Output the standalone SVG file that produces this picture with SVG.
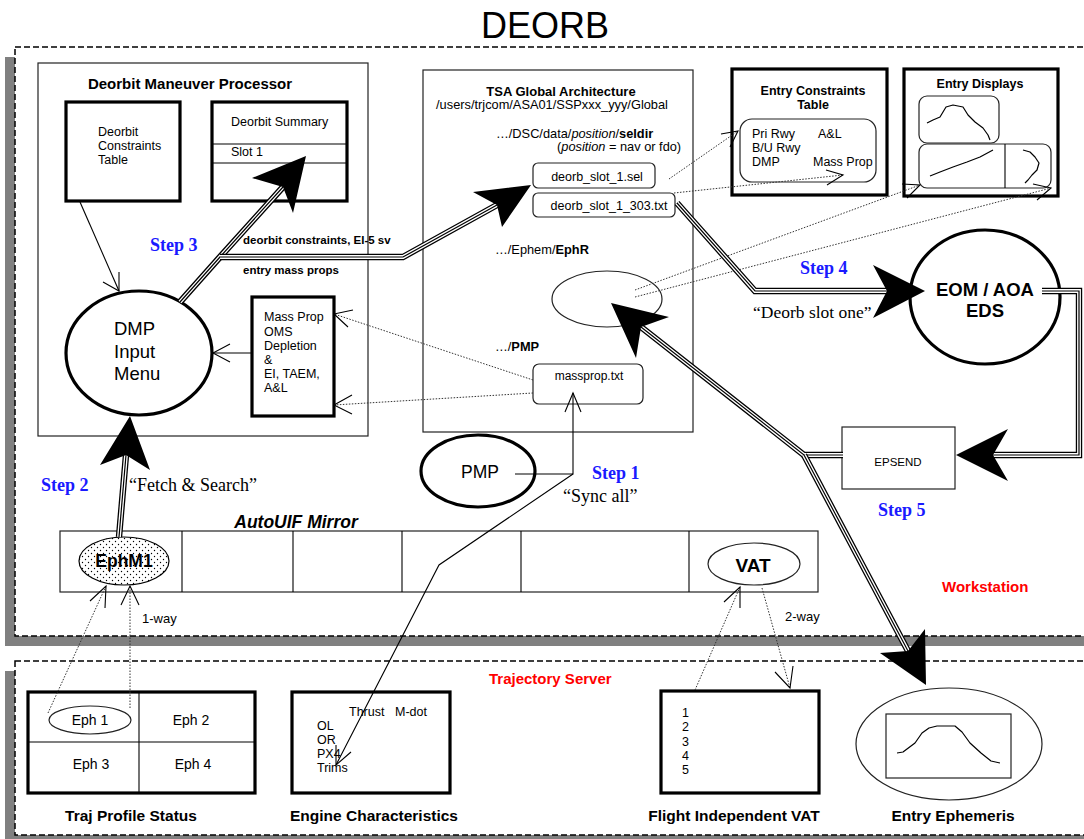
<svg xmlns="http://www.w3.org/2000/svg" xmlns:xlink="http://www.w3.org/1999/xlink" width="1084" height="839" viewBox="0 0 1084 839">
<style>
text{font-family:"Liberation Sans",Arial,sans-serif;fill:#000}
.b{font-weight:bold}
.serif{font-family:"Liberation Serif","Times New Roman",serif}
.step{font-family:"Liberation Serif","Times New Roman",serif;font-weight:bold;font-size:18px;fill:#1a1aff}
.red{font-weight:bold;font-size:15px;fill:#ff0000}
.thin{fill:#fff;stroke:#222;stroke-width:1.2}
.thick{fill:#fff;stroke:#000;stroke-width:3.2}
.frame{fill:#fff;stroke:#000;stroke-width:1.5;stroke-dasharray:6 3}
.shadow{fill:#808080}
.ln{fill:none;stroke:#000;stroke-width:1.1}
.curve{fill:none;stroke:#000;stroke-width:1.2;stroke-linejoin:round}
.dot{fill:none;stroke:#333;stroke-width:1;stroke-dasharray:1.5 1.5}
.t1{fill:none;stroke:#000;stroke-width:6.4}
.t2{fill:none;stroke:#fff;stroke-width:3.8}
.t3{fill:none;stroke:#000;stroke-width:1.2}
.head{fill:#000;stroke:none}
.lbl{font-weight:bold;font-size:15.5px;text-anchor:middle}
</style>
<defs>
<pattern id="dots" width="6" height="6" patternUnits="userSpaceOnUse">
<rect width="6" height="6" fill="#fff"/>
<circle cx="1.5" cy="1.5" r="0.7" fill="#000"/>
<circle cx="4.5" cy="4.5" r="0.7" fill="#000"/>
</pattern>
<path id="pA" d="M180,302 L220,257 L283,187"/>
<path id="pB" d="M220,257 L403,257 L497,205"/>
<path id="pC" d="M677,203 L755,291 L887,291"/>
<path id="pD" d="M1042,291 L1079,291 L1079,455 L993,455"/>
<path id="pE" d="M843,455 L804,455 L641,327"/>
<path id="pF" d="M804,455 L908,651"/>
<path id="pG" d="M119,537 L126,455"/>
</defs>
<rect width="1084" height="839" fill="#fff"/>
<text x="545" y="38" font-size="36" text-anchor="middle">DEORB</text>

<g id="workstation">
<rect class="shadow" x="5" y="57" width="1090" height="589"/>
<rect class="frame" x="15" y="47" width="1080" height="589"/>
<text class="red" x="942" y="592">Workstation</text>
</g>
<g id="trajectory-server">
<rect class="shadow" x="5" y="671" width="1090" height="174"/>
<rect class="frame" x="15" y="661" width="1080" height="174"/>
<text class="red" x="489" y="684">Trajectory Server</text>
</g>

<g id="dmp-processor">
<rect class="thin" x="38" y="63" width="330" height="373"/>
<text class="b" x="190" y="89" font-size="15" text-anchor="middle">Deorbit Maneuver Processor</text>
</g>
<g id="deorbit-constraints-table">
<rect class="thick" x="66" y="102" width="114" height="99"/>
<text x="98" y="136" font-size="12.5">Deorbit</text>
<text x="98" y="150" font-size="12.5">Constraints</text>
<text x="98" y="164" font-size="12.5">Table</text>
</g>
<g id="deorbit-summary">
<rect class="thick" x="212" y="102" width="135" height="99"/>
<line class="ln" x1="212" y1="144" x2="347" y2="144"/>
<line class="ln" x1="212" y1="163" x2="347" y2="163"/>
<text x="231" y="126" font-size="12.5">Deorbit Summary</text>
<text x="231" y="156" font-size="12.5">Slot 1</text>
</g>
<g id="dmp-input-menu">
<ellipse class="thick" cx="139" cy="353" rx="73" ry="62"/>
<text x="114" y="335" font-size="18.5">DMP</text>
<text x="114" y="358" font-size="18.5">Input</text>
<text x="114" y="380" font-size="18.5">Menu</text>
</g>
<g id="mass-prop">
<rect class="thick" x="252" y="297" width="82" height="119"/>
<text x="264" y="321" font-size="12.5">Mass Prop</text>
<text x="264" y="336" font-size="12.5">OMS</text>
<text x="264" y="350" font-size="12.5">Depletion</text>
<text x="264" y="364" font-size="12.5">&amp;</text>
<text x="264" y="378" font-size="12.5">EI, TAEM,</text>
<text x="264" y="392" font-size="12.5">A&amp;L</text>
</g>

<g id="tsa-global">
<rect class="thin" x="423" y="70" width="270" height="362"/>
<text class="b" x="561" y="96" font-size="13" text-anchor="middle">TSA Global Architecture</text>
<text x="552" y="109" font-size="12.8" text-anchor="middle">/users/trjcom/ASA01/SSPxxx_yyy/Global</text>
<text x="496" y="138" font-size="12.8">…/DSC/data/<tspan font-style="italic">position</tspan>/<tspan font-weight="bold">seldir</tspan></text>
<text x="557" y="151" font-size="12.8">(<tspan font-style="italic">position</tspan> = nav or fdo)</text>
<text x="495" y="254" font-size="12.8">…/Ephem/<tspan font-weight="bold">EphR</tspan></text>
<text x="495" y="351" font-size="12.8">…/<tspan font-weight="bold">PMP</tspan></text>
</g>
<g id="deorb-slot-sel">
<rect class="thin" x="533" y="163" width="122" height="25" rx="5"/>
<text x="597" y="181" font-size="12.5" text-anchor="middle">deorb_slot_1.sel</text>
</g>
<g id="deorb-slot-txt">
<rect class="thin" x="533" y="193" width="142" height="24" rx="5"/>
<text x="609" y="210" font-size="12.5" text-anchor="middle">deorb_slot_1_303.txt</text>
</g>
<g id="ephr">
<ellipse class="thin" cx="607" cy="299" rx="55" ry="28"/>
</g>
<g id="massprop-txt">
<rect class="thin" x="533" y="364" width="110" height="40" rx="6"/>
<text x="589" y="380" font-size="12" text-anchor="middle">massprop.txt</text>
</g>

<g id="entry-constraints-table">
<rect class="thick" x="732" y="69" width="155" height="126"/>
<text class="b" x="813" y="95" font-size="12.5" text-anchor="middle">Entry Constraints</text>
<text class="b" x="813" y="109" font-size="12.5" text-anchor="middle">Table</text>
<rect class="thin" x="740" y="119" width="136" height="63" rx="12"/>
<text x="752" y="138" font-size="12.5">Pri Rwy</text>
<text x="752" y="152" font-size="12.5">B/U Rwy</text>
<text x="752" y="166" font-size="12.5">DMP</text>
<text x="818" y="138" font-size="12.5">A&amp;L</text>
<text x="813" y="166" font-size="12.5">Mass Prop</text>
</g>
<g id="entry-displays">
<rect class="thick" x="904" y="69" width="154" height="127"/>
<text class="b" x="980" y="88" font-size="12.5" text-anchor="middle">Entry Displays</text>
<rect class="thin" x="919" y="96" width="80" height="47" rx="8"/>
<rect class="thin" x="919" y="144" width="132" height="44" rx="8"/>
<line class="ln" x1="1005" y1="144" x2="1005" y2="188"/>
<polyline class="curve" points="927,123 933,120 940,117 946,107 953,105 963,107 968,115 975,122 983,128 988,135 990,140"/>
<polyline class="curve" points="930,176 940,172 953,167 967,162 980,157 993,150"/>
<polyline class="curve" points="1023,150 1030,152 1035,157 1039,163 1037,170 1032,175 1028,180 1025,183"/>
</g>
<g id="eom-aoa-eds">
<ellipse class="thick" cx="985" cy="297" rx="75" ry="67"/>
<text class="b" x="985" y="296" font-size="18.5" text-anchor="middle">EOM / AOA</text>
<text class="b" x="985" y="317" font-size="18.5" text-anchor="middle">EDS</text>
</g>
<g id="epsend">
<rect class="thin" x="842" y="427" width="113" height="62"/>
<text x="898" y="466" font-size="11.5" text-anchor="middle">EPSEND</text>
</g>
<g id="pmp">
<ellipse class="thick" cx="478" cy="471" rx="57" ry="36"/>
<text x="480" y="478" font-size="17.5" text-anchor="middle">PMP</text>
</g>

<g id="autouif-mirror">
<text x="296" y="528" font-size="17.5" font-weight="bold" font-style="italic" text-anchor="middle">AutoUIF Mirror</text>
<rect class="thin" x="60" y="531" width="758" height="61" stroke-width="1.5"/>
<line class="ln" x1="182" y1="531" x2="182" y2="592"/>
<line class="ln" x1="293" y1="531" x2="293" y2="592"/>
<line class="ln" x1="402" y1="531" x2="402" y2="592"/>
<line class="ln" x1="521" y1="531" x2="521" y2="592"/>
<line class="ln" x1="689" y1="531" x2="689" y2="592"/>
</g>
<g id="ephm1">
<ellipse cx="124" cy="561" rx="45" ry="24" fill="url(#dots)" stroke="#000" stroke-width="1.2"/>
<text class="b" x="124" y="567" font-size="17.5" text-anchor="middle">EphM1</text>
</g>
<g id="vat">
<ellipse class="thin" cx="754" cy="564" rx="46" ry="21"/>
<text class="b" x="753" y="572" font-size="19" text-anchor="middle">VAT</text>
</g>

<g id="traj-profile-status">
<rect class="thick" x="28" y="692" width="227" height="101"/>
<line class="ln" x1="139" y1="692" x2="139" y2="793"/>
<line class="ln" x1="28" y1="742" x2="255" y2="742"/>
<ellipse class="thin" cx="90" cy="720" rx="41" ry="14" fill="none"/>
<text x="90" y="725" font-size="14" text-anchor="middle">Eph 1</text>
<text x="191" y="725" font-size="14" text-anchor="middle">Eph 2</text>
<text x="91" y="769" font-size="14" text-anchor="middle">Eph 3</text>
<text x="193" y="769" font-size="14" text-anchor="middle">Eph 4</text>
<text class="lbl" x="131" y="821">Traj Profile Status</text>
</g>
<g id="engine-characteristics">
<rect class="thick" x="292" y="692" width="158" height="101"/>
<text x="349" y="716" font-size="12.5">Thrust</text>
<text x="395" y="716" font-size="12.5">M-dot</text>
<text x="317" y="730" font-size="12.5">OL</text>
<text x="317" y="744" font-size="12.5">OR</text>
<text x="317" y="758" font-size="12.5">PX4</text>
<text x="317" y="772" font-size="12.5">Trims</text>
<text class="lbl" x="374" y="821">Engine Characteristics</text>
</g>
<g id="flight-independent-vat">
<rect class="thick" x="661" y="691" width="158" height="102"/>
<text x="682" y="717" font-size="12.5">1</text>
<text x="682" y="731" font-size="12.5">2</text>
<text x="682" y="746" font-size="12.5">3</text>
<text x="682" y="760" font-size="12.5">4</text>
<text x="682" y="774" font-size="12.5">5</text>
<text class="lbl" x="734" y="821">Flight Independent VAT</text>
</g>
<g id="entry-ephemeris">
<ellipse class="thin" cx="949" cy="744" rx="93" ry="56"/>
<rect class="thin" x="886" y="714" width="125" height="64" stroke="#444"/>
<polyline class="curve" points="897,753 903,752 915,743 922,733 929,728 937,726 955,726 962,732 970,743 981,753 991,761 1000,763"/>
<text class="lbl" x="953" y="821">Entry Ephemeris</text>
</g>

<g id="connectors">
<line class="ln" x1="80" y1="202" x2="119" y2="291"/>
<polyline class="ln" points="103,282 119,291 119,272"/>
<line class="ln" x1="252" y1="353" x2="213" y2="353"/>
<polyline class="ln" points="230,344 213,353 230,362"/>
<polyline class="ln" points="515,474 573,474 573,393"/>
<polyline class="ln" points="565,412 573,393 581,412"/>
<polyline class="ln" points="573,474 439,565 336,765"/>
<polyline class="ln" points="351,752 336,765 336,745"/>

<line class="dot" x1="669" y1="179" x2="738" y2="131"/>
<polyline class="ln" points="721,134 738,131 730,147"/>
<line class="dot" x1="674" y1="193" x2="843" y2="175"/>
<polyline class="ln" points="827,185 843,175 826,170"/>
<line class="dot" x1="635" y1="290" x2="920" y2="185"/>
<polyline class="ln" points="907,198 920,185 902,184"/>
<line class="dot" x1="635" y1="297" x2="1051" y2="188"/>
<polyline class="ln" points="1037,200 1051,188 1033,184"/>
<line class="dot" x1="533" y1="380" x2="334" y2="314"/>
<polyline class="ln" points="353,310 334,314 348,327"/>
<line class="dot" x1="533" y1="393" x2="334" y2="405"/>
<polyline class="ln" points="352,395 334,405 352,414"/>
<line class="dot" x1="48" y1="713" x2="106" y2="586"/>
<polyline class="ln" points="90,601 106,586 105,608"/>
<line class="dot" x1="130" y1="708" x2="130" y2="586"/>
<polyline class="ln" points="121,605 130,586 139,605"/>
<line class="dot" x1="695" y1="690" x2="740" y2="587"/>
<polyline class="ln" points="724,602 740,587 740,608"/>
<line class="dot" x1="762" y1="588" x2="790" y2="688"/>
<polyline class="ln" points="775,672 790,688 793,666"/>

<g id="triple-lines">
<use xlink:href="#pA" class="t1"/><use xlink:href="#pA" class="t2"/><use xlink:href="#pA" class="t3"/>
<use xlink:href="#pB" class="t1"/><use xlink:href="#pB" class="t2"/><use xlink:href="#pB" class="t3"/>
<use xlink:href="#pC" class="t1"/><use xlink:href="#pC" class="t2"/><use xlink:href="#pC" class="t3"/>
<use xlink:href="#pD" class="t1"/><use xlink:href="#pD" class="t2"/><use xlink:href="#pD" class="t3"/>
<use xlink:href="#pE" class="t1"/><use xlink:href="#pE" class="t2"/><use xlink:href="#pE" class="t3"/>
<use xlink:href="#pF" class="t1"/><use xlink:href="#pF" class="t2"/><use xlink:href="#pF" class="t3"/>
<use xlink:href="#pG" class="t1"/><use xlink:href="#pG" class="t2"/><use xlink:href="#pG" class="t3"/>
</g>
<polygon class="head" points="306,156 252,178 283,187 293,213"/>
<polygon class="head" points="531,185 473,192 497,205 502,227"/>
<polygon class="head" points="925,291 873,265 887,291 873,318"/>
<polygon class="head" points="956,455 1008,429 993,455 1008,481"/>
<polygon class="head" points="611,303 669,317 641,327 636,358"/>
<polygon class="head" points="926,685 880,653 908,651 925,629"/>
<polygon class="head" points="130,416 100,465 126,455 150,470"/>
</g>

<g id="labels">
<text class="step" x="150" y="251">Step 3</text>
<text class="step" x="41" y="491">Step 2</text>
<text class="step" x="592" y="479">Step 1</text>
<text class="step" x="800" y="274">Step 4</text>
<text class="step" x="878" y="516">Step 5</text>
<text class="serif" x="129" y="491" font-size="18">“Fetch &amp; Search”</text>
<text class="serif" x="563" y="502" font-size="18">“Sync all”</text>
<text class="serif" x="753" y="318" font-size="17.5">“Deorb slot one”</text>
<text class="b" x="243" y="244" font-size="11.5">deorbit constraints, EI-5 sv</text>
<text class="b" x="243" y="274" font-size="11.5">entry mass props</text>
<text x="142" y="623" font-size="13">1-way</text>
<text x="785" y="621" font-size="13">2-way</text>
</g>
</svg>
